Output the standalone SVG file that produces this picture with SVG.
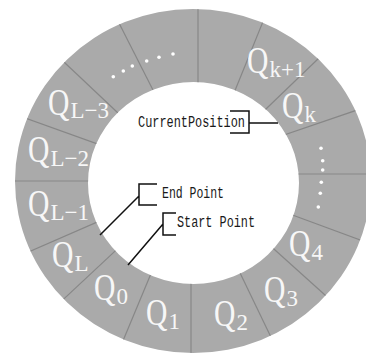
<svg xmlns="http://www.w3.org/2000/svg" width="366" height="356" viewBox="0 0 366 356">
<style>
.ring{fill:#aaaaaa;fill-rule:evenodd}
.sep line{stroke:#878787;stroke-width:1.2}
.dot{fill:#ffffff}
.lbl{fill:#f7f7f7;font-family:"Liberation Serif","Times New Roman",serif}
.q{font-size:37px}
.s{font-size:23px}
.cap{font-family:"Liberation Mono","Courier New",monospace;font-size:16px;fill:#1a1a1a}
.conn path{fill:none;stroke:#111;stroke-width:1.5}
</style>
<defs>
<clipPath id="ringClip"><path clip-rule="evenodd" d="M15 181A178 172 0 1 0 371 181A178 172 0 1 0 15 181ZM88 183A105.5 101 0 1 0 299 183A105.5 101 0 1 0 88 183Z"/></clipPath>
</defs>
<rect width="366" height="356" fill="#ffffff"/>
<g id="ring">
<path class="ring" d="M15 181A178 172 0 1 0 371 181A178 172 0 1 0 15 181ZM88 183A105.5 101 0 1 0 299 183A105.5 101 0 1 0 88 183Z"/>
<g class="sep" clip-path="url(#ringClip)">
<line x1="161.6" y1="106.9" x2="110.4" y2="6.1"/>
<line x1="132.6" y1="126.7" x2="49.4" y2="48.3"/>
<line x1="111.2" y1="148.9" x2="8.8" y2="112.1"/>
<line x1="100" y1="181" x2="0" y2="181"/>
<line x1="113.6" y1="214.9" x2="14.4" y2="258.1"/>
<line x1="126.8" y1="240.1" x2="53.2" y2="308.9"/>
<line x1="157.5" y1="258" x2="117.5" y2="354"/>
<line x1="191" y1="270" x2="191" y2="360"/>
<line x1="232.6" y1="257.6" x2="277.4" y2="350.4"/>
<line x1="260" y1="236.5" x2="340" y2="308.5"/>
<line x1="275.5" y1="208.8" x2="379.5" y2="247.2"/>
<line x1="280" y1="174" x2="370" y2="174"/>
<line x1="267.2" y1="140.8" x2="388.8" y2="99.2"/>
<line x1="252.7" y1="121.7" x2="334.3" y2="43.3"/>
<line x1="228.2" y1="107.2" x2="269.8" y2="4.8"/>
<line x1="198" y1="95" x2="198" y2="0"/>
</g>
</g>
<g id="dots-top">
<circle class="dot" cx="113.3" cy="76.7" r="1.8"/>
<circle class="dot" cx="123.3" cy="71" r="1.8"/>
<circle class="dot" cx="132.3" cy="66" r="1.8"/>
<circle class="dot" cx="146.7" cy="61" r="1.8"/>
<circle class="dot" cx="159" cy="57.3" r="1.8"/>
<circle class="dot" cx="173" cy="54" r="1.8"/>
</g>
<g id="dots-right">
<circle class="dot" cx="321" cy="148.3" r="1.8"/>
<circle class="dot" cx="322.7" cy="160.7" r="1.8"/>
<circle class="dot" cx="322.7" cy="170" r="1.8"/>
<circle class="dot" cx="321.3" cy="182.3" r="1.8"/>
<circle class="dot" cx="320.3" cy="193.3" r="1.8"/>
<circle class="dot" cx="318.3" cy="207" r="1.8"/>
</g>
<g id="QL-3"><text class="lbl q" transform="translate(48 115) scale(0.8 1)">Q</text><text class="lbl s" x="70.5" y="118">L−3</text></g>
<g id="QL-2"><text class="lbl q" transform="translate(28 162) scale(0.8 1)">Q</text><text class="lbl s" x="50.5" y="166">L−2</text></g>
<g id="QL-1"><text class="lbl q" transform="translate(28 216) scale(0.8 1)">Q</text><text class="lbl s" x="50.5" y="220">L−1</text></g>
<g id="QL"><text class="lbl q" transform="translate(52 267) scale(0.8 1)">Q</text><text class="lbl s" x="74.5" y="271">L</text></g>
<g id="Q0"><text class="lbl q" transform="translate(94 300) scale(0.8 1)">Q</text><text class="lbl s" x="116.5" y="304">0</text></g>
<g id="Q1"><text class="lbl q" transform="translate(146 325) scale(0.8 1)">Q</text><text class="lbl s" x="168.5" y="329">1</text></g>
<g id="Q2"><text class="lbl q" transform="translate(214 326) scale(0.8 1)">Q</text><text class="lbl s" x="236.5" y="330">2</text></g>
<g id="Q3"><text class="lbl q" transform="translate(264 302) scale(0.8 1)">Q</text><text class="lbl s" x="286.5" y="306">3</text></g>
<g id="Q4"><text class="lbl q" transform="translate(289 256) scale(0.8 1)">Q</text><text class="lbl s" x="311.5" y="260">4</text></g>
<g id="Qk"><text class="lbl q" transform="translate(282 118) scale(0.8 1)">Q</text><text class="lbl s" x="304.5" y="122">k</text></g>
<g id="Qk+1"><text class="lbl q" transform="translate(247 73) scale(0.8 1)">Q</text><text class="lbl s" x="269.5" y="77">k+1</text></g>
<g id="current-position"><text class="cap" x="138" y="127" textLength="107" lengthAdjust="spacingAndGlyphs">CurrentPosition</text></g>
<g id="end-point"><text class="cap" x="162" y="198" textLength="62" lengthAdjust="spacingAndGlyphs">End Point</text></g>
<g id="start-point"><text class="cap" x="177" y="227" textLength="78" lengthAdjust="spacingAndGlyphs">Start Point</text></g>
<g id="connectors" class="conn">
<path d="M230 111H249V133H230M249 123H278"/>
<path d="M157 184H139V205H157M139 196L100 235"/>
<path d="M176 213H163V235H176M163 224L128 265"/>
</g>
</svg>
